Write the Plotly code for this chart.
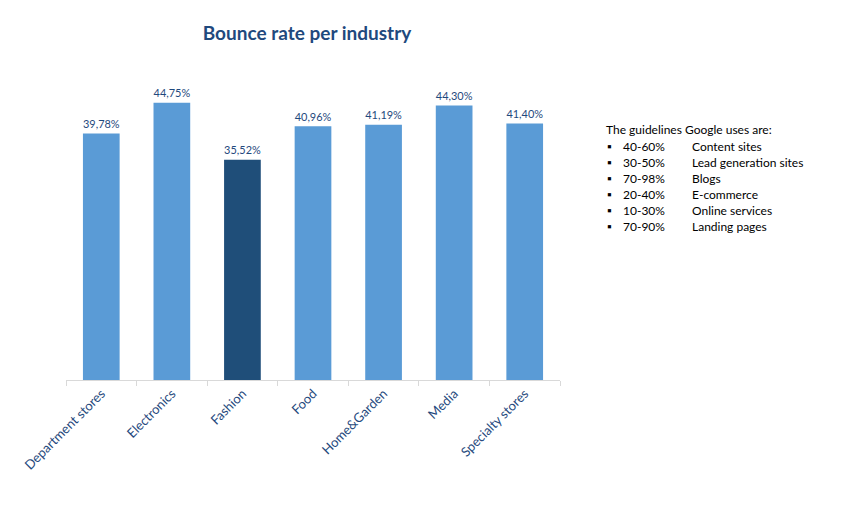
import plotly.graph_objects as go

categories = ["Department stores", "Electronics", "Fashion", "Food", "Home&Garden", "Media", "Specialty stores"]
values = [39.78, 44.75, 35.52, 40.96, 41.19, 44.30, 41.40]
labels = ["39,78%", "44,75%", "35,52%", "40,96%", "41,19%", "44,30%", "41,40%"]
colors = ["#5a9bd6", "#5a9bd6", "#1f4e79", "#5a9bd6", "#5a9bd6", "#5a9bd6", "#5a9bd6"]
guide_ranges = ["40-60%", "30-50%", "70-98%", "20-40%", "10-30%", "70-90%"]
guide_names = ["Content sites", "Lead generation sites", "Blogs", "E-commerce", "Online services", "Landing pages"]

FONT = "Lato, Open Sans, sans-serif"
OFF = 8
L, R, T, B, W, H = 66 - OFF, 289 + OFF, 98 - OFF, 141 + OFF, 849, 521
pw = W - L - R
ph = H - T - B

fig = go.Figure(go.Bar(
    x=categories, y=values, text=labels, textposition="outside",
    textfont=dict(color="#1f497d", size=13, family=FONT),
    marker=dict(color=colors, line=dict(width=0)), width=0.52, cliponaxis=False,
))

def px(x):
    return (x - OFF - L) / pw

def py(y):
    return (H - B - (y - OFF)) / ph

ann = [dict(text="The guidelines Google uses are:", x=px(604), y=py(129), xref="paper", yref="paper",
            xanchor="left", yanchor="middle", showarrow=False, font=dict(size=12, color="#000", family=FONT))]
for i, (r, n) in enumerate(zip(guide_ranges, guide_names)):
    yp = py(146 + i * 16)
    ann.append(dict(text="▪", x=px(605), y=yp, xref="paper", yref="paper", xanchor="left", yanchor="middle",
                    showarrow=False, font=dict(size=12, color="#000", family=FONT)))
    ann.append(dict(text=r, x=px(621), y=yp, xref="paper", yref="paper", xanchor="left", yanchor="middle",
                    showarrow=False, font=dict(size=12, color="#000", family=FONT)))
    ann.append(dict(text=n, x=px(690), y=yp, xref="paper", yref="paper", xanchor="left", yanchor="middle",
                    showarrow=False, font=dict(size=12, color="#000", family=FONT)))

fig.update_layout(
    width=849, height=521, margin=dict(l=L, r=R, t=T, b=B, autoexpand=False),
    paper_bgcolor="white", plot_bgcolor="white", showlegend=False,
    title=dict(text="<b>Bounce rate per industry</b>", x=(307 - OFF) / W, xanchor="center",
               y=1 - (33 - OFF) / H, yanchor="middle", font=dict(size=19, color="#1f497d", family=FONT)),
    xaxis=dict(showline=True, linecolor="#d9d9d9", ticks="outside", tickcolor="#d9d9d9", ticklen=5,
               tickson="boundaries", tickangle=-45, tickfont=dict(size=13, color="#1f497d", family=FONT)),
    yaxis=dict(range=[0, 45.5], visible=False),
    annotations=ann,
)
fig.write_html("out.html")
